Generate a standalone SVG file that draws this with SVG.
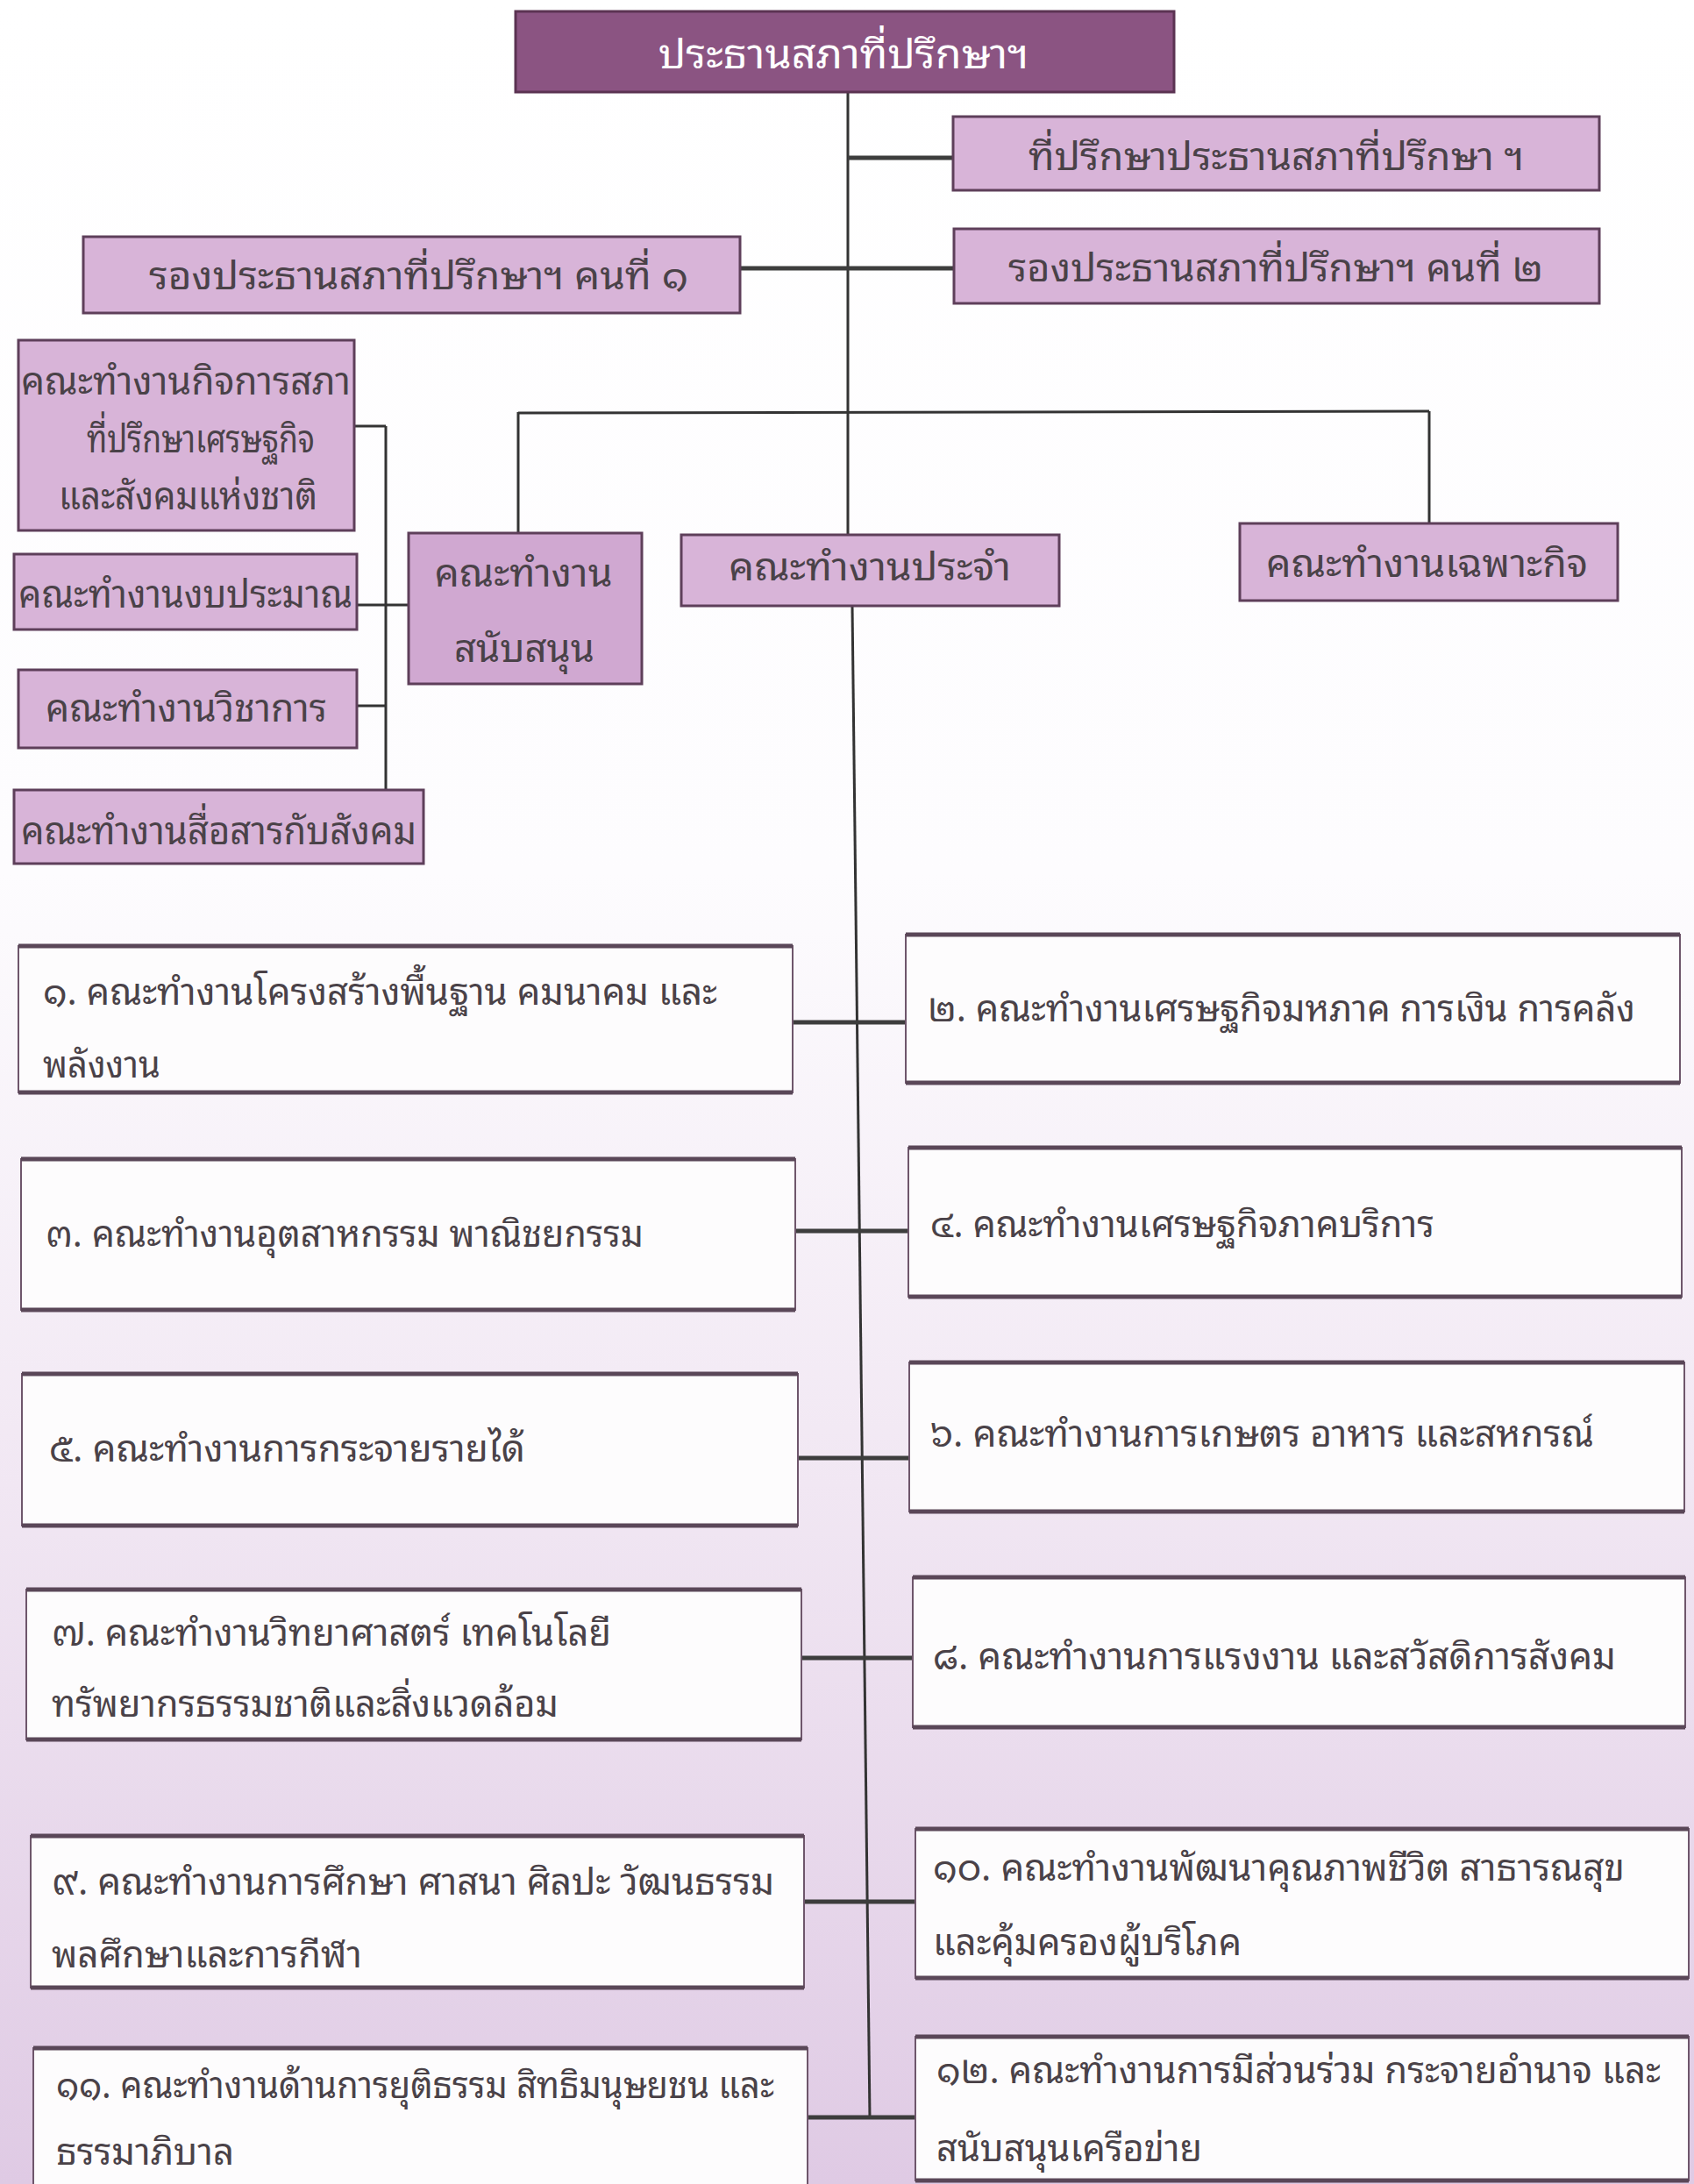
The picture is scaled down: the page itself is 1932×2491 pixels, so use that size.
<svg xmlns="http://www.w3.org/2000/svg" width="1932" height="2491" viewBox="0 0 1932 2491">
<defs>
<linearGradient id="bg" x1="0" y1="0" x2="0" y2="1">
<stop offset="0" stop-color="#ffffff"/>
<stop offset="0.4" stop-color="#fdfcfe"/>
<stop offset="0.68" stop-color="#f1e7f3"/>
<stop offset="1" stop-color="#dfcae4"/>
</linearGradient>
<style>
.t{font-family:"Noto Sans Thai Looped","Noto Sans Thai","Loma","Garuda","Noto Sans","DejaVu Sans",sans-serif;fill:#4a4248;font-size:42px;dominant-baseline:central}
.w{fill:#ffffff;font-size:46px}
.big{font-size:44px}
.head{fill:#8b5482;stroke:#5b3352;stroke-width:3}
.lil{fill:#d8b4d8;stroke:#5e3f5a;stroke-width:3}
.lil2{fill:#d0a8d1;stroke:#5e3f5a;stroke-width:3}
.wb{fill:#fdfcfd;stroke:#6e566b;stroke-width:2}
.edge{stroke:#5a4758;stroke-width:5}
.ln{stroke:#333333;stroke-width:3;fill:none}
.tk{stroke:#3d3d3d;stroke-width:5;fill:none}
</style>
</defs>
<rect x="0" y="0" width="1932" height="2491" fill="url(#bg)"/>

<g id="connectors">
<line class="ln" x1="967" y1="105" x2="967" y2="610"/>
<line class="ln" x1="972" y1="691" x2="992" y2="2417"/>
<line class="tk" x1="967" y1="180" x2="1087" y2="180"/>
<line class="tk" x1="844" y1="306" x2="1088" y2="306"/>
<line class="ln" x1="591" y1="471" x2="1630" y2="469"/>
<line class="ln" x1="591" y1="470" x2="591" y2="608"/>
<line class="ln" x1="1630" y1="469" x2="1630" y2="597"/>
<line class="ln" x1="440" y1="486" x2="440" y2="901"/>
<line class="ln" x1="404" y1="486" x2="440" y2="486"/>
<line class="ln" x1="407" y1="690" x2="466" y2="690"/>
<line class="ln" x1="407" y1="805" x2="440" y2="805"/>
<line class="tk" x1="904" y1="1166" x2="1033" y2="1166"/>
<line class="tk" x1="907" y1="1404" x2="1036" y2="1404"/>
<line class="tk" x1="910" y1="1663" x2="1037" y2="1663"/>
<line class="tk" x1="914" y1="1891" x2="1041" y2="1891"/>
<line class="tk" x1="917" y1="2169" x2="1044" y2="2169"/>
<line class="tk" x1="921" y1="2415" x2="1044" y2="2415"/>
</g>

<g id="n-chair">
<rect class="head" x="588" y="13" width="751" height="92"/>
<text class="t w" x="962" y="57" text-anchor="middle" textLength="422" lengthAdjust="spacingAndGlyphs">ประธานสภาที่ปรึกษาฯ</text>
</g>
<g id="n-advisor">
<rect class="lil" x="1087" y="133" width="737" height="84"/>
<text class="t big" x="1173" y="174" textLength="565" lengthAdjust="spacingAndGlyphs">ที่ปรึกษาประธานสภาที่ปรึกษา ฯ</text>
</g>
<g id="n-vice1">
<rect class="lil" x="95" y="270" width="749" height="87"/>
<text class="t big" x="170" y="310" textLength="615" lengthAdjust="spacingAndGlyphs">รองประธานสภาที่ปรึกษาฯ คนที่ ๑</text>
</g>
<g id="n-vice2">
<rect class="lil" x="1088" y="261" width="736" height="85"/>
<text class="t big" x="1150" y="301" textLength="610" lengthAdjust="spacingAndGlyphs">รองประธานสภาที่ปรึกษาฯ คนที่ ๒</text>
</g>

<g id="n-council">
<rect class="lil" x="21" y="388" width="383" height="217"/>
<text class="t big" x="24" y="430" textLength="376" lengthAdjust="spacingAndGlyphs">คณะทำงานกิจการสภา</text>
<text class="t big" x="99" y="496" textLength="260" lengthAdjust="spacingAndGlyphs">ที่ปรึกษาเศรษฐกิจ</text>
<text class="t big" x="67" y="561" textLength="295" lengthAdjust="spacingAndGlyphs">และสังคมแห่งชาติ</text>
</g>
<g id="n-budget">
<rect class="lil" x="16" y="632" width="391" height="86"/>
<text class="t big" x="21" y="673" textLength="381" lengthAdjust="spacingAndGlyphs">คณะทำงานงบประมาณ</text>
</g>
<g id="n-academic">
<rect class="lil" x="21" y="764" width="386" height="89"/>
<text class="t big" x="52" y="803" textLength="321" lengthAdjust="spacingAndGlyphs">คณะทำงานวิชาการ</text>
</g>
<g id="n-comms">
<rect class="lil" x="16" y="901" width="467" height="84"/>
<text class="t big" x="24" y="943" textLength="451" lengthAdjust="spacingAndGlyphs">คณะทำงานสื่อสารกับสังคม</text>
</g>
<g id="n-support">
<rect class="lil2" x="466" y="608" width="266" height="172"/>
<text class="t big" x="597" y="649" text-anchor="middle" textLength="203" lengthAdjust="spacingAndGlyphs">คณะทำงาน</text>
<text class="t big" x="598" y="735" text-anchor="middle" textLength="160" lengthAdjust="spacingAndGlyphs">สนับสนุน</text>
</g>
<g id="n-regular">
<rect class="lil" x="777" y="610" width="431" height="81"/>
<text class="t big" x="831" y="642" textLength="322" lengthAdjust="spacingAndGlyphs">คณะทำงานประจำ</text>
</g>
<g id="n-special">
<rect class="lil" x="1414" y="597" width="431" height="88"/>
<text class="t big" x="1444" y="638" textLength="367" lengthAdjust="spacingAndGlyphs">คณะทำงานเฉพาะกิจ</text>
</g>

<g id="n-1">
<rect class="wb" x="21" y="1079" width="883" height="167"/>
<line class="edge" x1="21" y1="1079" x2="904" y2="1079"/><line class="edge" x1="21" y1="1246" x2="904" y2="1246"/>
<text class="t" x="49" y="1127" textLength="769" lengthAdjust="spacingAndGlyphs">๑. คณะทำงานโครงสร้างพื้นฐาน คมนาคม และ</text>
<text class="t" x="49" y="1210" textLength="134" lengthAdjust="spacingAndGlyphs">พลังงาน</text>
</g>
<g id="n-2">
<rect class="wb" x="1033" y="1066" width="883" height="169"/>
<line class="edge" x1="1033" y1="1066" x2="1916" y2="1066"/><line class="edge" x1="1033" y1="1235" x2="1916" y2="1235"/>
<text class="t" x="1058" y="1146" textLength="807" lengthAdjust="spacingAndGlyphs">๒. คณะทำงานเศรษฐกิจมหภาค การเงิน การคลัง</text>
</g>
<g id="n-3">
<rect class="wb" x="24" y="1322" width="883" height="172"/>
<line class="edge" x1="24" y1="1322" x2="907" y2="1322"/><line class="edge" x1="24" y1="1494" x2="907" y2="1494"/>
<text class="t" x="52" y="1403" textLength="682" lengthAdjust="spacingAndGlyphs">๓. คณะทำงานอุตสาหกรรม พาณิชยกรรม</text>
</g>
<g id="n-4">
<rect class="wb" x="1036" y="1309" width="882" height="170"/>
<line class="edge" x1="1036" y1="1309" x2="1918" y2="1309"/><line class="edge" x1="1036" y1="1479" x2="1918" y2="1479"/>
<text class="t" x="1061" y="1392" textLength="575" lengthAdjust="spacingAndGlyphs">๔. คณะทำงานเศรษฐกิจภาคบริการ</text>
</g>
<g id="n-5">
<rect class="wb" x="25" y="1567" width="885" height="173"/>
<line class="edge" x1="25" y1="1567" x2="910" y2="1567"/><line class="edge" x1="25" y1="1740" x2="910" y2="1740"/>
<text class="t" x="56" y="1648" textLength="543" lengthAdjust="spacingAndGlyphs">๕. คณะทำงานการกระจายรายได้</text>
</g>
<g id="n-6">
<rect class="wb" x="1037" y="1554" width="884" height="170"/>
<line class="edge" x1="1037" y1="1554" x2="1921" y2="1554"/><line class="edge" x1="1037" y1="1724" x2="1921" y2="1724"/>
<text class="t" x="1061" y="1631" textLength="757" lengthAdjust="spacingAndGlyphs">๖. คณะทำงานการเกษตร อาหาร และสหกรณ์</text>
</g>
<g id="n-7">
<rect class="wb" x="30" y="1813" width="884" height="171"/>
<line class="edge" x1="30" y1="1813" x2="914" y2="1813"/><line class="edge" x1="30" y1="1984" x2="914" y2="1984"/>
<text class="t" x="59" y="1858" textLength="638" lengthAdjust="spacingAndGlyphs">๗. คณะทำงานวิทยาศาสตร์ เทคโนโลยี</text>
<text class="t" x="59" y="1939" textLength="578" lengthAdjust="spacingAndGlyphs">ทรัพยากรธรรมชาติและสิ่งแวดล้อม</text>
</g>
<g id="n-8">
<rect class="wb" x="1041" y="1799" width="881" height="171"/>
<line class="edge" x1="1041" y1="1799" x2="1922" y2="1799"/><line class="edge" x1="1041" y1="1970" x2="1922" y2="1970"/>
<text class="t" x="1064" y="1885" textLength="779" lengthAdjust="spacingAndGlyphs">๘. คณะทำงานการแรงงาน และสวัสดิการสังคม</text>
</g>
<g id="n-9">
<rect class="wb" x="35" y="2094" width="882" height="173"/>
<line class="edge" x1="35" y1="2094" x2="917" y2="2094"/><line class="edge" x1="35" y1="2267" x2="917" y2="2267"/>
<text class="t" x="59" y="2142" textLength="824" lengthAdjust="spacingAndGlyphs">๙. คณะทำงานการศึกษา ศาสนา ศิลปะ วัฒนธรรม</text>
<text class="t" x="59" y="2225" textLength="354" lengthAdjust="spacingAndGlyphs">พลศึกษาและการกีฬา</text>
</g>
<g id="n-10">
<rect class="wb" x="1044" y="2086" width="882" height="170"/>
<line class="edge" x1="1044" y1="2086" x2="1926" y2="2086"/><line class="edge" x1="1044" y1="2256" x2="1926" y2="2256"/>
<text class="t" x="1064" y="2126" textLength="789" lengthAdjust="spacingAndGlyphs">๑๐. คณะทำงานพัฒนาคุณภาพชีวิต สาธารณสุข</text>
<text class="t" x="1064" y="2211" textLength="352" lengthAdjust="spacingAndGlyphs">และคุ้มครองผู้บริโภค</text>
</g>
<g id="n-11">
<rect class="wb" x="38" y="2336" width="883" height="170"/>
<line class="edge" x1="38" y1="2336" x2="921" y2="2336"/>
<text class="t" x="64" y="2374" textLength="819" lengthAdjust="spacingAndGlyphs">๑๑. คณะทำงานด้านการยุติธรรม สิทธิมนุษยชน และ</text>
<text class="t" x="64" y="2450" textLength="203" lengthAdjust="spacingAndGlyphs">ธรรมาภิบาล</text>
</g>
<g id="n-12">
<rect class="wb" x="1044" y="2323" width="882" height="164"/>
<line class="edge" x1="1044" y1="2323" x2="1926" y2="2323"/><line class="edge" x1="1044" y1="2487" x2="1926" y2="2487"/>
<text class="t" x="1068" y="2357" textLength="826" lengthAdjust="spacingAndGlyphs">๑๒. คณะทำงานการมีส่วนร่วม กระจายอำนาจ และ</text>
<text class="t" x="1068" y="2446" textLength="303" lengthAdjust="spacingAndGlyphs">สนับสนุนเครือข่าย</text>
</g>
</svg>
